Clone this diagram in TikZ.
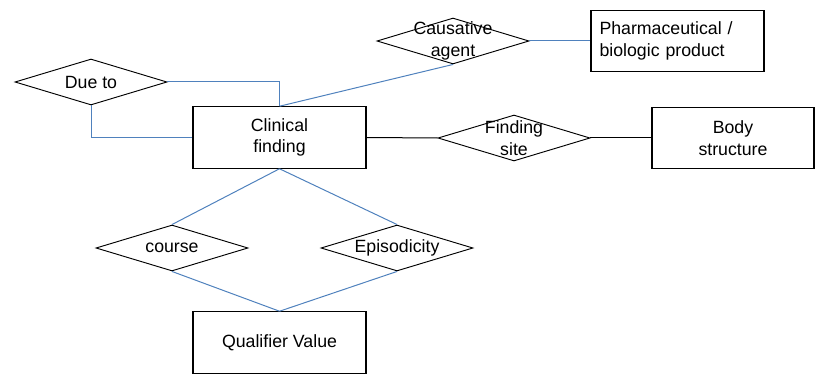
\documentclass[tikz,border=0pt]{standalone}
\usepackage{fontspec}
\setmainfont{Liberation Sans}
\usepackage{tikz}
\usetikzlibrary{shapes,positioning,calc}
\definecolor{link}{RGB}{79,129,189}

\begin{document}
\begin{tikzpicture}[
    x=0.75pt, y=-0.75pt,
    box/.style={rectangle, draw=black, line width=0.9pt, fill=white,
                minimum width=129.75pt, minimum height=46pt, inner sep=0pt, align=center},
    rel/.style={diamond, draw=black, line width=0.7pt, fill=white,
                minimum width=114pt, minimum height=34.5pt, inner sep=0pt},
    lbl/.style={align=center, inner sep=0pt},
    font=\fontsize{13.3}{16.2}\selectfont
]
    \useasboundingbox (0,0) rectangle (815,374);

    % Entities
    \node[box] (clinical) at (279.5,137.5) {Clinical\\finding};
    \node[box, align=left, text width=117pt] (pharma) at (677.5,41) {Pharmaceutical /\\biologic product};
    \node[box, minimum width=121.5pt] (body) at (733,138) {Body\\structure};
    \node[box] (qualifier) at (279.5,342.5) {Qualifier Value};

    % Relationships
    \node[rel] (dueto) at (91,82) {};
    \node[rel] (causative) at (453,41) {};
    \node[rel] (site) at (514,138) {};
    \node[rel] (course) at (172,248) {};
    \node[rel] (episodicity) at (397,248) {};

    % Links
    \draw[link, line width=0.75pt] (dueto.east) -| (clinical.north);
    \draw[link, line width=0.75pt] (dueto.south) |- (clinical.west);
    \draw[link, line width=0.75pt] (clinical.north) -- (causative.south);
    \draw[link, line width=0.75pt] (causative.east) -- (pharma.west);
    \draw[black, line width=0.75pt] (clinical.east) -- (site.west);
    \draw[black, line width=0.75pt] (site.east) -- (body.west);
    \draw[link, line width=0.75pt] (clinical.south) -- (course.north);
    \draw[link, line width=0.75pt] (clinical.south) -- (episodicity.north);
    \draw[link, line width=0.75pt] (course.south) -- (qualifier.north);
    \draw[link, line width=0.75pt] (episodicity.south) -- (qualifier.north);

    % Relationship labels
    \node[lbl] (duetotext) at (dueto) {Due to};
    \node[lbl] (causativetext) at (causative) {Causative\\agent};
    \node[lbl] (sitetext) at (site) {Finding\\site};
    \node[lbl] (coursetext) at (course) {course};
    \node[lbl] (episodicitytext) at (episodicity) {Episodicity};
\end{tikzpicture}
\end{document}
